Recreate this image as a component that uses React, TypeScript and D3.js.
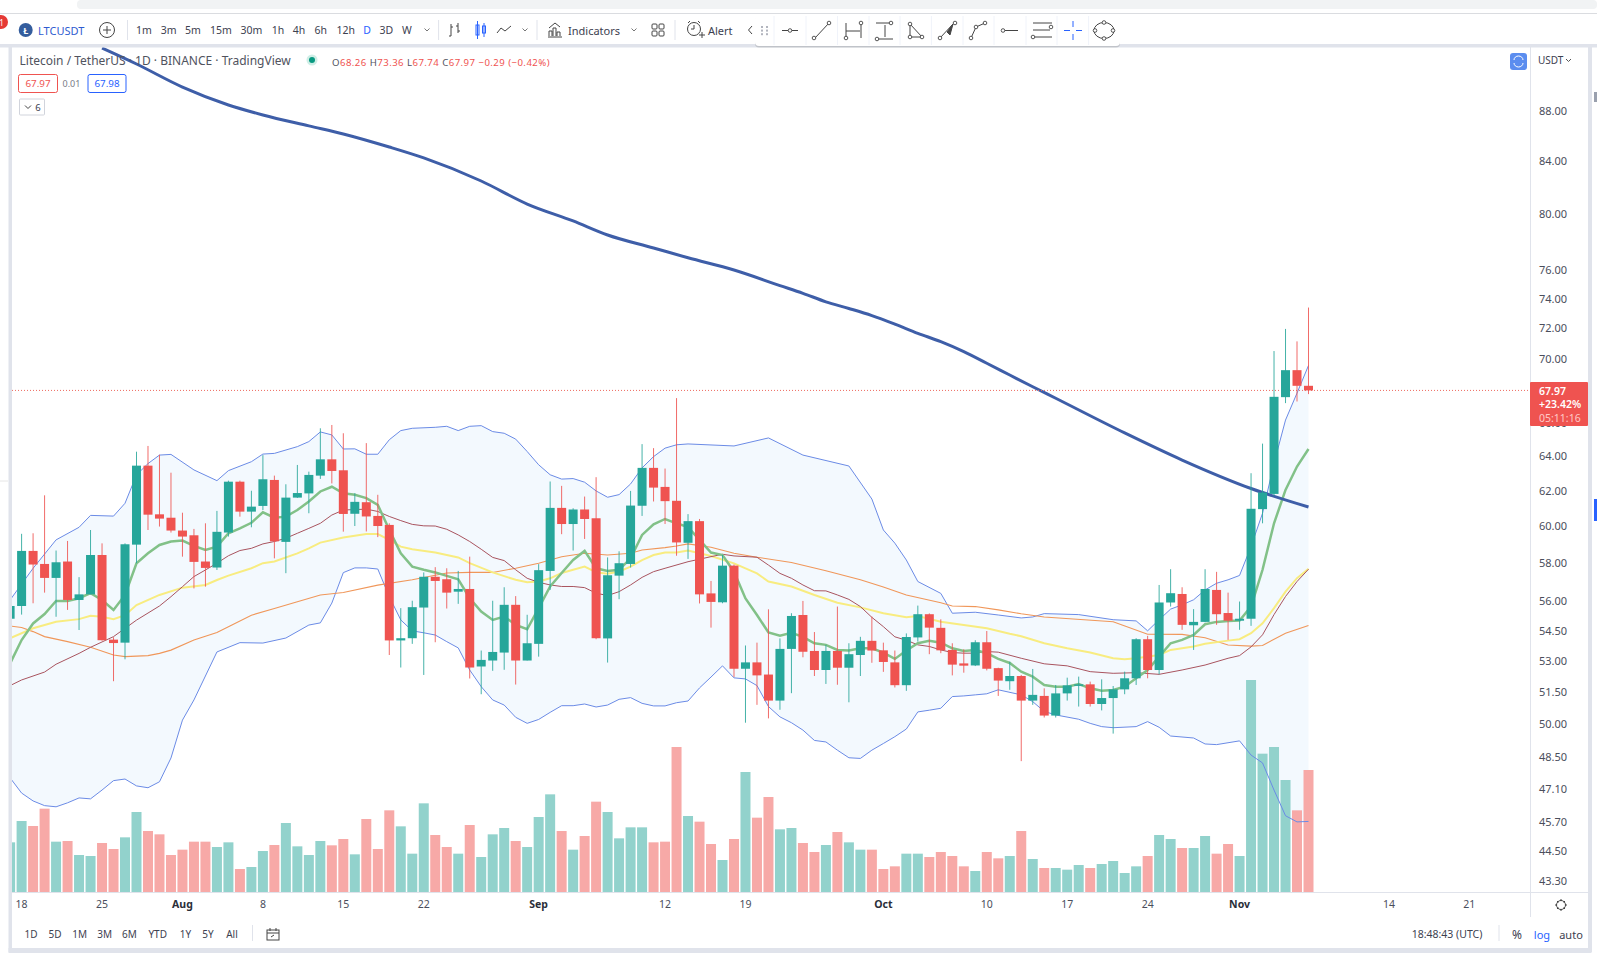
import React from "react";
import * as d3 from "d3";

// Day numbers count from 18 Jul (day 0). Candles start at day -1 (17 Jul).
const firstDay = -1;
const opens = [55.08,55.73,58.63,57.93,57.19,58.06,56.04,56.33,58.41,54.03,53.88,58.97,63.42,60.64,60.45,59.74,59.48,58.06,57.74,59.63,62.49,60.79,61.11,62.59,59.12,61.58,61.82,62.84,63.79,63.15,60.67,61.32,60.55,60.05,53.99,54.10,55.65,57.25,57.12,56.47,56.61,52.71,53.0,53.39,55.79,53.0,53.82,57.56,61.0,60.10,60.91,60.42,54.09,57.31,57.93,61.12,63.29,62.19,61.40,59.07,60.26,56.38,55.92,57.84,52.60,52.91,52.32,51.08,53.57,55.27,53.47,52.54,53.47,52.65,53.27,53.97,53.50,52.91,51.81,54.14,55.31,54.62,53.52,52.86,52.76,53.90,52.63,52.0,52.25,51.08,51.30,50.38,51.42,51.80,51.85,50.92,51.20,51.61,52.14,54.05,52.54,55.91,56.35,54.75,54.92,56.56,55.37,54.98,55.08,60.93,61.79,67.55,69.25,68.26];
const highs = [56.0,59.56,59.59,61.71,58.65,59.17,57.23,59.77,59.04,54.15,59.04,64.24,64.58,64.06,63.01,60.73,59.83,60.14,60.83,62.55,62.55,61.97,64.04,62.84,62.34,63.46,63.07,65.64,65.84,65.34,61.83,64.75,61.74,60.14,55.62,56.0,57.48,57.76,57.70,57.56,58.32,53.49,56.0,56.70,56.24,55.28,57.92,62.5,62.25,60.98,61.64,62.75,58.28,58.61,61.96,64.69,64.45,63.25,67.49,60.65,60.38,57.03,58.41,57.9,53.74,53.88,55.56,54.09,55.36,55.99,54.41,53.77,55.70,53.85,54.17,55.19,53.88,53.49,54.34,55.75,55.35,55.05,53.85,53.55,54.0,54.46,52.65,52.94,52.3,52.59,51.66,51.82,52.17,52.22,51.98,52.09,51.77,52.46,54.1,54.22,56.82,57.65,56.70,55.57,57.65,57.51,56.42,55.96,62.98,64.72,70.48,71.93,71.11,73.36];
const lows = [54.8,55.29,55.87,56.42,55.18,55.53,54.51,56.33,53.98,52.0,53.06,57.97,59.77,59.96,59.63,58.32,56.64,56.73,57.61,59.41,60.51,59.92,60.88,58.23,57.44,61.56,60.70,62.65,62.39,59.68,59.99,59.69,59.38,53.27,52.66,53.82,52.30,53.90,55.60,55.84,52.13,51.38,52.5,52.55,51.84,53.0,53.19,56.56,59.54,58.65,59.28,54.05,52.9,56.08,57.74,60.55,61.36,60.10,58.37,58.2,55.86,54.63,55.87,52.2,50.05,50.88,50.25,50.65,51.43,53.16,52.25,51.87,51.83,51.0,52.25,52.89,52.45,51.70,51.54,53.93,53.31,53.36,52.28,52.41,52.73,52.52,51.30,51.59,48.31,50.88,50.29,50.29,51.08,50.80,50.80,50.62,49.55,51.38,51.82,52.14,52.33,55.70,54.52,53.52,54.90,54.77,54.02,54.52,54.72,60.14,61.68,67.18,67.28,67.74];
const closes = [55.73,58.63,57.90,57.19,58.02,56.04,56.33,58.41,54.0,53.86,58.99,63.42,60.62,60.40,59.74,59.41,58.04,57.72,59.67,62.49,60.79,61.07,62.63,59.15,61.58,61.84,62.88,63.79,63.11,60.66,61.34,60.52,59.99,53.99,54.10,55.67,57.25,57.03,56.42,56.61,52.66,53.03,53.42,55.79,53.0,53.85,57.60,61.0,60.10,60.91,60.38,54.10,57.33,57.97,61.13,63.29,62.15,61.38,59.09,60.26,56.33,55.94,57.84,52.60,52.91,52.28,51.08,53.57,55.22,53.43,52.54,53.47,52.65,53.31,53.97,53.49,52.93,51.81,54.16,55.31,54.63,53.50,52.80,52.75,53.90,52.60,52.03,52.25,51.08,51.35,50.38,51.42,51.80,51.85,50.92,51.20,51.61,52.14,54.05,52.54,55.91,56.39,54.77,54.92,56.61,55.31,54.98,55.08,60.95,61.87,67.57,69.25,68.26,67.97];
const volumes = [149,213,198,250,151,153,111,108,147,129,164,240,183,173,111,127,151,151,135,149,69,75,123,141,207,137,111,153,140,159,113,219,129,245,197,115,266,171,135,115,201,105,173,192,153,135,225,293,183,127,168,271,240,161,194,194,149,151,435,228,211,144,96,159,360,223,285,188,192,147,120,141,180,149,127,127,69,77,115,115,105,120,108,77,63,120,101,108,183,99,72,72,67,81,72,84,93,57,77,108,171,159,132,132,168,115,144,108,636,415,435,336,245,366];

const sma200Days = [7,10,14,18,21,25,28,32,35,40,44,48,51,55,58,62,66,68,70,72,74,76,78,80,82,84,86,88,90,96,101,107,112];
const sma200 = [93.17,91.81,89.88,88.41,87.6,86.72,86.08,85.05,84.2,82.43,80.7,79.45,78.43,77.5,76.8,75.94,74.86,74.33,73.75,73.3,72.82,72.25,71.64,71.09,70.44,69.69,68.94,68.2,67.48,65.36,63.75,62.1,61.05];

const upperDays = [-1,1,3,5,6,8,9,10,11,12,13,15,17,18,20,21,22,24,25,26,27,28,29,30,31,32,33,34,36,37,38,39,40,41,42,43,44,45,46,47,48,49,50,51,52,53,54,55,56,57,58,62,65,68,72,74,75,76,77,78,80,81,83,85,87,88,89,92,95,97,98,99,100,101,102,103,104,105,106,107,108,109,110,111,112];
const upper = [56.04,57.70,59.23,59.92,60.58,60.54,61.26,62.88,63.54,64.04,64.08,63.17,62.55,63.13,63.65,64.1,64.14,64.54,64.84,65.42,65.24,64.4,64.41,64.09,64.09,64.95,65.5,65.64,65.7,65.76,65.5,65.76,65.8,65.44,65.34,64.99,64.25,63.47,62.89,62.64,62.67,62.46,61.96,61.6,61.75,62.36,63.29,63.95,64.45,64.65,64.7,64.58,65.06,64.04,63.4,61.5,59.77,59.05,58.14,57.0,56.38,55.36,55.41,55.27,55.12,55.17,55.34,55.29,55.03,54.97,54.47,55.03,55.57,55.79,56.05,56.56,56.91,57.09,57.32,58.87,60.7,63.56,66.14,67.8,69.55];
const lowerDays = [-1,0,1,2,3,4,5,6,7,8,9,10,11,12,13,14,15,17,19,21,23,25,26,27,28,29,30,31,32,33,34,35,36,37,38,39,40,41,42,43,44,45,46,47,48,49,50,51,52,53,54,55,56,57,58,59,60,61,62,63,64,65,66,67,68,69,70,71,72,73,74,75,76,77,78,79,80,81,82,83,84,85,87,88,89,90,92,93,94,95,97,98,99,100,102,103,104,106,107,108,109,110,111,112];
const lower = [47.57,46.91,46.57,46.37,46.32,46.49,46.7,46.66,47.04,47.45,47.52,47.22,47.14,47.4,48.45,50.17,51.11,53.42,53.88,53.86,54.11,54.76,54.87,55.88,57.47,57.72,57.72,57.66,56.21,55.02,54.47,54.37,54.26,53.93,53.62,52.54,51.74,51.11,50.87,50.3,50.02,50.2,50.53,50.84,50.84,50.92,50.78,50.87,51.14,51.22,50.95,50.83,50.83,50.98,51.06,51.68,52.2,52.74,52.16,52.11,51.79,50.8,50.32,50.05,49.71,49.24,49.17,48.8,48.46,48.43,48.8,49.1,49.41,49.76,50.55,50.63,50.72,51.27,51.3,51.35,51.4,51.59,51.35,51.03,50.57,50.41,50.21,50.02,49.87,49.82,49.87,50.1,49.84,49.44,49.35,49.08,49.05,49.22,48.58,48.23,47.04,45.94,45.68,45.7];

const greenDays = d3.range(-1, 113);
const green = [52.85,54.01,54.84,55.32,55.99,55.99,56.13,56.39,56.04,55.53,56.3,57.97,58.5,58.95,59.14,59.19,58.9,58.68,58.86,59.59,59.86,60.17,60.75,60.45,60.51,60.88,61.36,61.93,62.2,61.83,61.74,61.55,61.17,59.78,58.5,57.79,57.62,57.48,57.3,57.12,56.13,55.45,55.02,55.19,54.77,54.55,55.62,56.74,57.45,58.14,58.63,57.7,57.56,57.62,58.23,59.5,60.08,60.38,60.14,59.93,59.23,58.54,58.41,57.52,56.12,55.27,54.39,54.22,54.37,54.17,53.85,53.77,53.52,53.49,53.6,53.6,53.39,53.08,53.49,53.85,53.97,53.88,53.6,53.47,53.52,53.36,53.08,52.88,52.46,52.22,51.82,51.74,51.74,51.86,51.66,51.55,51.58,51.74,52.14,52.54,53.19,53.85,54.02,54.27,54.8,54.92,54.97,54.99,55.7,57.62,60.14,62.02,63.37,64.4];

const maroonDays = [-1,0,2,3,5,6,8,10,12,13,14,15,16,17,18,19,20,21,22,23,24,25,26,27,28,30,31,32,33,34,35,36,37,38,39,40,41,42,43,44,45,46,47,48,49,50,51,52,53,54,55,56,58,60,61,62,64,65,66,67,68,69,70,71,72,73,74,75,76,77,78,79,80,81,82,83,84,85,87,89,91,93,95,97,99,101,103,105,106,107,108,109,110,111,112];
const maroon = [51.79,52.06,52.44,52.82,53.35,53.65,54.18,55.01,55.73,56.21,56.73,57.26,57.61,57.97,58.37,58.65,58.77,59.01,59.14,59.32,59.59,59.86,60.14,60.6,60.88,60.93,60.8,60.52,60.29,60.08,60.0,59.99,59.81,59.5,59.14,58.72,58.28,58.11,57.62,57.17,56.96,56.82,56.74,56.74,56.68,56.39,56.27,56.47,56.82,57.22,57.52,57.7,58.05,58.32,58.45,58.36,58.29,57.87,57.43,57.17,56.82,56.52,56.51,56.3,56.07,55.7,55.15,54.68,54.17,54.0,53.77,53.69,53.52,53.39,53.36,53.36,53.44,53.41,53.11,52.84,52.74,52.46,52.38,52.41,52.33,52.54,52.78,53.11,53.24,53.67,54.27,55.29,56.22,57.0,57.65];

const yellowDays = [-1,1,3,5,6,7,8,9,10,12,14,16,17,18,20,21,22,24,25,26,28,30,31,32,33,34,36,38,39,41,43,44,45,46,47,48,49,50,51,52,53,54,55,56,57,58,60,62,64,65,67,69,71,73,75,77,78,80,82,84,86,87,89,91,93,95,96,97,99,100,102,103,105,106,107,108,109,110,111,112];
const yellow = [54.1,54.6,54.93,55.06,55.23,55.18,55.06,55.26,55.78,56.3,56.68,56.82,57.08,57.31,57.7,57.97,58.06,58.5,58.77,59.08,59.36,59.55,59.55,59.23,58.86,58.72,58.54,58.28,57.97,57.48,57.09,56.96,57.0,57.17,57.45,57.62,57.79,57.49,57.41,57.53,57.79,58.14,58.41,58.54,58.54,58.65,58.36,57.96,57.43,57.0,56.74,56.3,55.9,55.66,55.36,55.15,55.22,54.93,54.76,54.6,54.32,54.2,53.85,53.6,53.39,53.11,53.06,53.11,53.27,53.52,53.69,53.82,53.98,54.05,54.35,54.85,55.62,56.47,57.18,57.67];

const orangeDays = [-1,0,1,2,4,6,8,9,11,12,13,15,17,18,20,22,24,26,28,31,34,37,39,41,43,45,47,49,51,53,54,56,57,58,60,62,64,67,70,73,75,77,80,81,83,85,87,89,95,98,101,103,105,107,108,110,112];
const orange = [54.71,54.64,54.43,54.18,53.93,53.65,53.27,53.19,53.24,53.35,53.51,54.01,54.39,54.68,55.26,55.6,55.95,56.3,56.43,56.81,57.09,57.45,57.48,57.48,57.7,57.97,58.32,58.5,58.41,58.5,58.68,58.81,58.9,59.01,58.83,58.5,58.29,58.01,57.57,57.09,56.71,56.3,55.9,55.73,55.7,55.53,55.33,55.17,54.93,54.3,54.29,54.12,53.76,53.71,53.74,54.35,54.74];

const priceTicks = [88,84,80,76,74,72,70,66,64,62,60,58,56,54.5,53,51.5,50,48.5,47.1,45.7,44.5,43.3];
const dateDays = [0,7,14,21,28,35,45,56,63,75,84,91,98,106,119,126];
const dateLabels = ["18","25","Aug","8","15","22","Sep","12","19","Oct","10","17","24","Nov","14","21"];
const boldDates = ["Aug","Sep","Oct","Nov"];
const intervals = ["1m","3m","5m","15m","30m","1h","4h","6h","12h","D","3D","W"];
const intervalX = [144,168.6,193,221,251.4,278,299,320.7,345.7,367,386.4,407];
const ranges = ["1D","5D","1M","3M","6M","YTD","1Y","5Y","All"];
const rangeX = [31,55,79.7,104.6,129.5,157.7,185.5,208,232];
const ohlcLegend: [string, string][] = [["O","68.26"],["H","73.36"],["L","67.74"],["C","67.97"]];
const lastPrice = 67.97;

const UP = "#26a69a", DOWN = "#ef5350", UP_V = "#92d2cc", DOWN_V = "#f7a9a7";
const FONT = "'Noto Sans', sans-serif";
const GREY = "#e0e3eb";
const INK = "#3d4150";

const x = d3.scaleLinear().domain([0, 112]).range([21.6, 1308.5]);
const y = d3.scaleLog().domain([88, 43.3]).range([110, 880]);
const vol = d3.scaleLinear().domain([0, 636]).range([892, 680]);

type P = [number, number];
const zip = (ds: number[], vs: number[]): P[] => ds.map((d, i) => [d, vs[i]]);
const line = d3.line<P>().x((d) => x(d[0])).y((d) => y(d[1]));
const smooth = d3.line<P>().x((d) => x(d[0])).y((d) => y(d[1])).curve(d3.curveMonotoneX);
const upperPts = zip(upperDays, upper);
const lowerPts = zip(lowerDays, lower);
const bandPath = (line(upperPts) as string) + "L" + (line([...lowerPts].reverse()) as string).slice(1) + "Z";
const bw = 9, vw = 10;

function T({ x: tx, y: ty, s = 11, c = INK, a = "middle", w = 400, ch }: any) {
  return (
    <text x={tx} y={ty} fontSize={s} fill={c} textAnchor={a} fontWeight={w} fontFamily={FONT} dominantBaseline="central">
      {ch}
    </text>
  );
}

function Node({ cx, cy }: { cx: number; cy: number }) {
  return <circle cx={cx} cy={cy} r={1.8} fill="#fff" stroke="#444" strokeWidth={0.9} />;
}

function DrawingBar() {
  const seps = [774, 806, 837.5, 869, 900, 931.4, 963, 994, 1026, 1057, 1088.6];
  const s = "#444";
  return (
    <g>
      <rect x={755} y={15} width={365} height={31} rx={4} fill="#000" opacity={0.14} transform="translate(0,1.5)" />
      <rect x={755} y={15} width={365} height={31} rx={4} fill="#fff" />
      {seps.map((d) => <line key={d} x1={d} x2={d} y1={16} y2={45} stroke="#f0f3fa" />)}
      {[0, 1, 2].map((r) => [762, 767].map((cx) => <rect key={`${r}${cx}`} x={cx - 1} y={26 + r * 3.6} width={2} height={2} fill="#b2b5be" />))}
      <g fill="none" stroke={s} strokeWidth={1}>
        <path d="M782 30.5H798" /><Node cx={790} cy={30.5} />
        <path d="M815 38L829 23" /><Node cx={814} cy={38} /><Node cx={829} cy={23} />
        <path d="M846 23V38M861 23V38M846 31H860" /><Node cx={846} cy={38} /><Node cx={861} cy={23} />
        <path d="M876 23H891M877 39H893M885 25V37" /><Node cx={891} cy={23} /><Node cx={877} cy={39} />
        <path d="M910 24L922 37H910Z" /><Node cx={910} cy={24} /><Node cx={922} cy={37} /><Node cx={910} cy={37} />
        <path d="M940 38L953 24" /><path d="M947 32L953 24L950 35Z" fill={s} /><Node cx={940} cy={38} /><Node cx={955} cy={23} />
        <path d="M971 38L976 27L985 23" /><Node cx={971} cy={38} /><Node cx={976} cy={27} /><Node cx={985} cy={23} />
        <path d="M1004 30.5H1018" /><Node cx={1003} cy={30.5} />
        <path d="M1033 23H1052M1033 30H1050M1033 37H1052" /><Node cx={1051} cy={27} /><Node cx={1033} cy={37} />
        <path d="M1064 30.5H1070M1076 30.5H1082M1073 21V27M1073 34V40" stroke="#2962ff" />
        <ellipse cx={1104} cy={30.5} rx={10} ry={8} />
        <Node cx={1095} cy={30.5} /><Node cx={1113} cy={30.5} /><Node cx={1104} cy={22.5} /><Node cx={1104} cy={38.5} />
      </g>
    </g>
  );
}

function TopBar() {
  return (
    <g>
      <rect x={0} y={0} width={1597} height={13} fill="#fff" />
      <rect x={77} y={0} width={1520} height={9} rx={4} fill="#f1f3f4" />
      <line x1={0} x2={1597} y1={13.5} y2={13.5} stroke="#dadce0" />
      <rect x={0} y={44} width={1597} height={3.5} fill={GREY} />
      <circle cx={1} cy={22} r={7} fill="#e53935" />
      <T x={1.5} y={22} s={8} c="#fff" ch="1" />
      <circle cx={25.7} cy={30} r={7} fill="#345d9d" />
      <T x={25.7} y={30} s={9} c="#fff" w={700} ch="Ł" />
      <T x={38} y={30} s={11} a="start" c="#2f5bd0" ch="LTCUSDT" />
      <g fill="none" stroke="#444">
        <circle cx={107} cy={30} r={7.5} />
        <path d="M103 30H111M107 26V34" />
        <path d="M127.5 20V40M438.6 20V40M537 20V40M675 20V40" stroke={GREY} />
        <path d="M424.5 28.5L427 31L429.5 28.5M522.5 28.5L525 31L527.5 28.5M631.5 28.5L634 31L636.5 28.5" stroke="#777" />
        <path d="M451 24V36M449 36H451M451 27H453M458 23V33M456 26H458M458 31H460" />
        <rect x={476} y={25} width={3} height={10} stroke="#2962ff" />
        <path d="M477.5 21V39M484 23V37" stroke="#2962ff" />
        <rect x={482.5} y={26} width={3} height={7} stroke="#2962ff" />
        <path d="M497 33L501 28L505 31L511 26" />
        <path d="M548 37H562M549 36V31H552V36M553 36V28H556V36M557 36V32H560V36M549 28L555 23L560 27" />
        <rect x={652} y={24} width={5} height={5} rx={1} /><rect x={659} y={24} width={5} height={5} rx={1} />
        <rect x={652} y={31} width={5} height={5} rx={1} /><rect x={659} y={31} width={5} height={5} rx={1} />
        <circle cx={694} cy={29} r={6.5} />
        <path d="M694 25V29H691M688 23L690 21M700 23L698 21M699 35H705M702 32V38" />
        <path d="M752 26L748.5 30L752 34" />
      </g>
      {intervals.map((t, i) => (
        <T key={t} x={intervalX[i]} y={30} s={10.5} c={t === "D" ? "#2962ff" : INK} ch={t} />
      ))}
      <T x={568} y={30} s={11} a="start" ch="Indicators" />
      <T x={708} y={30} s={11} a="start" ch="Alert" />
    </g>
  );
}

function Legend() {
  const tx = 332;
  return (
    <g>
      <T x={19.5} y={60} s={12} a="start" c="#50535e" ch="Litecoin / TetherUS · 1D · BINANCE · TradingView" />
      <circle cx={312} cy={60} r={5.5} fill="#cfeee6" />
      <circle cx={312} cy={60} r={3} fill="#089981" />
      <text x={tx} y={62} fontSize={9.6} fontFamily={FONT} dominantBaseline="central" letterSpacing={0.45}>
        {ohlcLegend.map(([k, v]) => (
          <React.Fragment key={k}>
            <tspan fill="#50535e">{k}</tspan>
            <tspan fill={DOWN}>{v} </tspan>
          </React.Fragment>
        ))}
        <tspan fill={DOWN}>−0.29 (−0.42%)</tspan>
      </text>
      <rect x={18.5} y={74.5} width={39} height={18} rx={2} fill="#fff" stroke={DOWN} />
      <T x={38} y={83.5} s={9.8} c={DOWN} ch="67.97" />
      <T x={71.5} y={83} s={9} c="#787b86" ch="0.01" />
      <rect x={88} y={74.5} width={38} height={18} rx={2} fill="#fff" stroke="#2962ff" />
      <T x={107} y={83.5} s={9.8} c="#2962ff" ch="67.98" />
      <rect x={19.5} y={99} width={25} height={16} rx={1} fill="#fff" stroke="#d1d4dc" />
      <path d="M25 105.5L28 108.5L31 105.5" fill="none" stroke="#444" />
      <T x={38} y={107} s={9.5} ch="6" />
      <rect x={1510} y={53} width={17} height={17} rx={3} fill="#5b8def" />
      <path d="M1514 60a4.5 4 0 0 1 9 0M1523 63a4.5 4 0 0 1 -9 0" fill="none" stroke="#fff" />
      <T x={1538} y={60} s={10} a="start" ch="USDT" />
      <path d="M1566 59L1568.5 61.5L1571 59" fill="none" stroke="#555" />
    </g>
  );
}

export default function App() {
  const candles = opens.map((o, i) => ({ d: firstDay + i, o, h: highs[i], l: lows[i], c: closes[i], v: volumes[i] }));
  const ly = y(lastPrice);
  return (
    <svg width={1597} height={953} viewBox="0 0 1597 953" style={{ position: "absolute", left: 0, top: 0, background: "#fff" }}>
      <defs>
        <clipPath id="pane"><rect x={12} y={47.5} width={1518} height={844.5} /></clipPath>
      </defs>
      <TopBar />
      <rect x={8.5} y={47} width={3.5} height={905} fill={GREY} />
      <rect x={1588} y={47} width={4} height={905} fill={GREY} />
      <rect x={8.5} y={948} width={1583} height={5} fill={GREY} />
      <line x1={0} x2={8} y1={481} y2={481} stroke="#e6e6e6" />
      <rect x={1594} y={499} width={3} height={22} fill="#2962ff" />
      <rect x={1594} y={92} width={3} height={10} fill="#9aa0ae" />

      <g clipPath="url(#pane)">
        <path d={bandPath} fill="#f3f9fe" />
        {candles.map((k) => (
          <rect key={k.d} x={x(k.d) - vw / 2} width={vw} y={vol(k.v)} height={892 - vol(k.v)} fill={k.c >= k.o ? UP_V : DOWN_V} />
        ))}
        <path d={line(upperPts) as string} fill="none" stroke="#6b8be6" strokeWidth={1} />
        <path d={line(lowerPts) as string} fill="none" stroke="#6b8be6" strokeWidth={1} />
        <path d={line(zip(orangeDays, orange)) as string} fill="none" stroke="#f0975a" strokeWidth={1.1} />
        <path d={line(zip(yellowDays, yellow)) as string} fill="none" stroke="#f8ec80" strokeWidth={2} />
        <path d={line(zip(maroonDays, maroon)) as string} fill="none" stroke="#a9545f" strokeWidth={1} />
        <path d={line(zip(greenDays, green)) as string} fill="none" stroke="#82c188" strokeWidth={2.5} />
        <path d={smooth(zip(sma200Days, sma200)) as string} fill="none" stroke="#3e5ea8" strokeWidth={3} />
        <line x1={12} x2={1530} y1={ly} y2={ly} stroke="#ee6a5f" strokeDasharray="1 2" />
        {candles.map((k) => {
          const col = k.c >= k.o ? UP : DOWN;
          const top = y(Math.max(k.o, k.c));
          const bot = y(Math.min(k.o, k.c));
          return (
            <g key={k.d}>
              <line x1={x(k.d)} x2={x(k.d)} y1={y(k.h)} y2={y(k.l)} stroke={col} strokeWidth={1} opacity={0.85} />
              <rect x={x(k.d) - bw / 2} width={bw} y={top} height={Math.max(bot - top, 1.5)} fill={col} />
            </g>
          );
        })}
      </g>

      <Legend />

      <line x1={1530.5} x2={1530.5} y1={47} y2={917} stroke={GREY} />
      <line x1={12} x2={1588} y1={892.5} y2={892.5} stroke={GREY} />
      {priceTicks.map((p) => (
        <T key={p} x={1553} y={y(p)} s={11} c="#4a4e5c" ch={p.toFixed(2)} />
      ))}
      <rect x={1530} y={382} width={58} height={44} rx={1} fill={DOWN} />
      <T x={1539} y={391} s={10.5} a="start" c="#fff" w={600} ch={lastPrice.toFixed(2)} />
      <T x={1539} y={404} s={10.5} a="start" c="#fff" w={600} ch="+23.42%" />
      <T x={1539} y={417.5} s={10.5} a="start" c="#ffc9c7" ch="05:11:16" />

      {dateDays.map((d, i) => (
        <T key={d} x={x(d)} y={904} s={10.5} c={boldDates.includes(dateLabels[i]) ? "#2a2e39" : "#4a4e5c"}
          w={boldDates.includes(dateLabels[i]) ? 700 : 400} ch={dateLabels[i]} />
      ))}
      <g fill="none" stroke="#444">
        <circle cx={1561} cy={905} r={4.5} />
        <path d="M1561 899V901M1561 909V911M1555 905H1557M1565 905H1567M1557 901L1558.4 902.4M1565 909L1563.6 907.6M1557 909L1558.4 907.6M1565 901L1563.6 902.4" />
        <rect x={267} y={930} width={12} height={10} />
        <path d="M267 933H279M270 928V931M276 928V931M271 937L274 935" />
        <path d="M252.5 925V941M1499 925V941" stroke={GREY} />
      </g>
      {ranges.map((t, i) => <T key={t} x={rangeX[i]} y={934} s={10} c="#3d4150" ch={t} />)}
      <T x={1447} y={934} s={10.5} ch="18:48:43 (UTC)" />
      <T x={1517} y={934} s={12} ch="%" />
      <T x={1542} y={934} s={11} c="#2962ff" ch="log" />
      <T x={1571} y={934} s={11} ch="auto" />
      <DrawingBar />
    </svg>
  );
}
